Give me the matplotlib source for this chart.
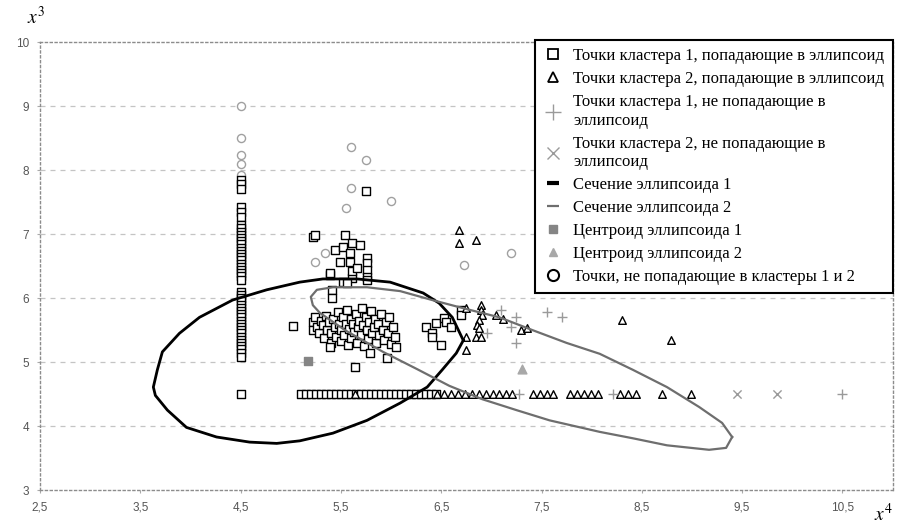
import matplotlib
matplotlib.use("Agg")
import matplotlib.pyplot as plt
from matplotlib.lines import Line2D

# axis ticks
x_ticks = [2.5, 3.5, 4.5, 5.5, 6.5, 7.5, 8.5, 9.5, 10.5]
x_tick_labels = ["2,5", "3,5", "4,5", "5,5", "6,5", "7,5", "8,5", "9,5", "10,5"]
y_ticks = [3, 4, 5, 6, 7, 8, 9, 10]
y_tick_labels = ["3", "4", "5", "6", "7", "8", "9", "10"]

labels = [
    "Точки кластера 1, попадающие в эллипсоид",
    "Точки кластера 2, попадающие в эллипсоид",
    "Точки кластера 1, не попадающие в\nэллипсоид",
    "Точки кластера 2, не попадающие в\nэллипсоид",
    "Сечение эллипсоида 1",
    "Сечение эллипсоида 2",
    "Центроид эллипсоида 1",
    "Центроид эллипсоида 2",
    "Точки, не попадающие в кластеры 1 и 2",
]

# cluster 1 inside ellipsoid: column at x=4.5
c1_col_y = [7.84, 7.78, 7.7, 7.42, 7.34, 7.27, 7.14, 7.09, 7.04, 6.99, 6.94,
            6.89, 6.84, 6.79, 6.74, 6.69, 6.64, 6.59, 6.54, 6.49, 6.44, 6.39,
            6.34, 6.28, 6.1, 6.05, 6.0, 5.95, 5.9, 5.85, 5.8, 5.75, 5.7, 5.65,
            5.6, 5.55, 5.5, 5.45, 5.4, 5.35, 5.3, 5.25, 5.2, 5.15, 5.08, 4.5]
# cluster 1 inside ellipsoid: row at y=4.5
c1_row_x = [5.1, 5.15, 5.2, 5.25, 5.3, 5.35, 5.4, 5.45, 5.5, 5.55, 5.6, 5.65,
            5.7, 5.75, 5.8, 5.85, 5.9, 5.95, 6.0, 6.05, 6.1, 6.15, 6.2, 6.25,
            6.3, 6.35, 6.4, 6.45]
# cluster 1 inside ellipsoid: main group
c1_x = [5.22, 5.22, 5.24, 5.26, 5.28, 5.3, 5.32, 5.33, 5.35, 5.36, 5.38, 5.4,
        5.4, 5.42, 5.44, 5.45, 5.47, 5.48, 5.5, 5.5, 5.52, 5.53, 5.55, 5.56,
        5.57, 5.58, 5.6, 5.6, 5.62, 5.63, 5.65, 5.66, 5.67, 5.68, 5.7, 5.71,
        5.72, 5.73, 5.75, 5.76, 5.77, 5.78, 5.8, 5.81, 5.83, 5.84, 5.85, 5.87,
        5.88, 5.9, 5.92, 5.93, 5.95, 5.97, 5.98, 6.0, 6.02, 6.04, 6.05,
        5.02, 5.39, 5.79, 5.96, 5.64,
        5.39, 5.41, 5.41, 5.52, 5.61, 5.61,
        5.22, 5.24, 5.54, 5.44, 5.52, 5.61, 5.69, 5.49, 5.59, 5.59, 5.66,
        5.76, 5.76, 5.76, 5.76, 5.39, 5.56, 5.76, 5.75,
        6.35, 6.41, 6.45, 6.5, 6.53, 6.55, 6.41, 6.7, 6.7, 6.6]
c1_y = [5.62, 5.5, 5.7, 5.55, 5.45, 5.65, 5.58, 5.38, 5.72, 5.5, 5.62, 5.3,
        5.45, 5.68, 5.55, 5.4, 5.78, 5.6, 5.5, 5.33, 5.7, 5.42, 5.6, 5.82,
        5.27, 5.52, 5.68, 5.38, 5.6, 5.47, 5.75, 5.3, 5.55, 5.65, 5.42, 5.85,
        5.58, 5.25, 5.7, 5.5, 5.36, 5.62, 5.8, 5.45, 5.55, 5.68, 5.3, 5.6,
        5.42, 5.75, 5.5, 5.35, 5.62, 5.45, 5.7, 5.28, 5.55, 5.4, 5.23,
        5.56, 5.23, 5.14, 5.06, 4.92,
        6.36, 6.12, 6.0, 6.25, 6.31, 6.43,
        6.95, 6.98, 6.98, 6.75, 6.8, 6.86, 6.83, 6.56, 6.7, 6.56, 6.47,
        6.62, 6.55, 6.44, 6.33, 6.39, 6.23, 6.28, 7.67,
        5.55, 5.45, 5.61, 5.27, 5.69, 5.62, 5.39, 5.81, 5.73, 5.55]

# cluster 2 inside ellipsoid
c2_x = [6.68, 6.68, 6.85, 6.75, 6.9, 6.9, 6.91, 7.05, 6.88, 6.86, 6.88, 6.75,
        6.85, 6.9, 6.75, 7.3, 7.35, 7.12, 8.3, 8.79, 5.64]
c2_y = [7.06, 6.86, 6.91, 5.84, 5.89, 5.81, 5.73, 5.73, 5.66, 5.58, 5.53, 5.39,
        5.39, 5.39, 5.19, 5.5, 5.53, 5.68, 5.66, 5.34, 4.5]
c2_row_x = [6.46, 6.53, 6.6, 6.67, 6.74, 6.81, 6.88, 6.95, 7.02, 7.08, 7.15,
            7.21, 7.41, 7.48, 7.55, 7.61, 7.78, 7.85, 7.92, 7.99, 8.06, 8.28,
            8.36, 8.44, 8.7, 8.99]

# cluster 1 outside ellipsoid
c1_out_x = [7.1, 7.25, 7.55, 7.7, 7.2, 7.25, 6.96, 7.28, 8.21, 10.5]
c1_out_y = [5.81, 5.7, 5.78, 5.7, 5.55, 5.3, 5.45, 4.5, 4.5, 4.5]

# cluster 2 outside ellipsoid
c2_out_x = [9.45, 9.85]
c2_out_y = [4.5, 4.5]

# centroids
cent1_x, cent1_y = [5.17], [5.02]
cent2_x, cent2_y = [7.31], [4.9]

# noise points
noise_x = [4.5, 4.5, 4.5, 4.5, 4.5, 5.6, 5.75, 5.6, 6.0, 5.55, 5.34, 5.24,
           6.73, 7.2]
noise_y = [9.0, 8.5, 8.23, 8.1, 7.92, 8.36, 8.16, 7.72, 7.52, 7.41, 6.7, 6.56,
           6.52, 6.7]

# ellipse sections (traced)
ell1_x = [6.72, 6.61, 6.48, 6.32, 5.99, 5.66, 5.32, 5.09, 4.76, 4.42, 4.09,
          3.89, 3.72, 3.67, 3.63, 3.65, 3.77, 3.96, 4.26, 4.59, 4.86, 5.09,
          5.42, 5.76, 6.09, 6.36, 6.51, 6.65, 6.72]
ell1_y = [5.34, 5.70, 5.92, 6.08, 6.25, 6.30, 6.30, 6.25, 6.13, 5.97, 5.70,
          5.45, 5.16, 4.88, 4.61, 4.48, 4.25, 3.98, 3.83, 3.75, 3.73, 3.77,
          3.89, 4.09, 4.36, 4.61, 4.88, 5.14, 5.34]
ell2_x = [9.40, 9.30, 9.07, 8.75, 8.41, 8.08, 7.75, 7.41, 7.08, 6.75, 6.41,
          6.09, 5.76, 5.42, 5.26, 5.20, 5.22, 5.29, 5.54, 5.92, 6.26, 6.58,
          6.91, 7.25, 7.58, 8.08, 8.41, 8.75, 9.17, 9.34, 9.40]
ell2_y = [3.83, 4.05, 4.30, 4.61, 4.88, 5.13, 5.30, 5.50, 5.70, 5.83, 5.97,
          6.11, 6.17, 6.17, 6.13, 6.02, 5.89, 5.77, 5.50, 5.16, 4.89, 4.63,
          4.42, 4.25, 4.09, 3.91, 3.81, 3.70, 3.63, 3.66, 3.83]

fig = plt.figure(figsize=(9.09, 5.27), dpi=100)
ax = fig.add_axes([0.044, 0.070, 0.938, 0.850])

grid_col = "#c4c4c4"
for yv in y_ticks[1:-1]:
    ax.axhline(yv, color=grid_col, lw=0.9, ls=(0, (4, 4)), zorder=0)

ax.plot(ell1_x, ell1_y, color="black", lw=2.0, zorder=4)
ax.plot(ell2_x, ell2_y, color="#6e6e6e", lw=1.6, zorder=4)

sq = dict(marker="s", s=30, facecolors="white", edgecolors="black",
          linewidths=1.0, zorder=3)
ax.scatter([4.5] * len(c1_col_y), c1_col_y, **sq)
ax.scatter(c1_row_x, [4.5] * len(c1_row_x), **sq)
ax.scatter(c1_x, c1_y, **sq)

tri = dict(marker="^", s=30, facecolors="white", edgecolors="black",
           linewidths=1.0, zorder=3)
ax.scatter(c2_row_x, [4.5] * len(c2_row_x), **tri)
ax.scatter(c2_x, c2_y, **tri)

ax.scatter(c1_out_x, c1_out_y, marker="+", s=45, color="#9a9a9a",
           linewidths=1.0, zorder=3)
ax.scatter(c2_out_x, c2_out_y, marker="x", s=35, color="#9a9a9a",
           linewidths=1.0, zorder=3)
ax.scatter(cent1_x, cent1_y, marker="s", s=30, color="#858585", zorder=3)
ax.scatter(cent2_x, cent2_y, marker="^", s=40, color="#a8a8a8", zorder=3)
ax.scatter(noise_x, noise_y, marker="o", s=34, facecolors="white",
           edgecolors="#a0a0a0", linewidths=1.0, zorder=2)

ax.set_xlim(2.5, 11.0)
ax.set_ylim(3, 10)
ax.set_xticks(x_ticks)
ax.set_xticklabels(x_tick_labels)
ax.set_yticks(y_ticks)
ax.set_yticklabels(y_tick_labels)
ax.tick_params(labelsize=8.5, labelcolor="#555555", length=2, color="#aaaaaa",
               pad=6)
for tl in ax.get_xticklabels() + ax.get_yticklabels():
    tl.set_family("Liberation Sans")

for side in ["left", "right", "top", "bottom"]:
    ax.spines[side].set_linestyle((0, (1.5, 2)))
    ax.spines[side].set_color("#8c8c8c")
    ax.spines[side].set_linewidth(1.0)

fig.text(0.03, 0.955, r"$x^3$", fontsize=14, family="serif",
         math_fontfamily="stix")
fig.text(0.962, 0.012, r"$x^4$", fontsize=14, family="serif",
         math_fontfamily="stix")

handles = [
    Line2D([], [], ls="none", marker="s", ms=7, mfc="white", mec="black", mew=1.3),
    Line2D([], [], ls="none", marker="^", ms=7, mfc="white", mec="black", mew=1.3),
    Line2D([], [], ls="none", marker="+", ms=11, color="#9a9a9a", mew=1.0),
    Line2D([], [], ls="none", marker="x", ms=8, color="#9a9a9a", mew=1.0),
    Line2D([], [], ls="none", marker="_", ms=9, color="black", mew=3.0),
    Line2D([], [], ls="none", marker="_", ms=9, color="#6e6e6e", mew=1.6),
    Line2D([], [], ls="none", marker="s", ms=6, color="#858585"),
    Line2D([], [], ls="none", marker="^", ms=6, color="#a8a8a8"),
    Line2D([], [], ls="none", marker="o", ms=8, mfc="white", mec="black", mew=1.5),
]
leg = ax.legend(handles, labels, loc="upper right", bbox_to_anchor=(1.0, 1.005),
                prop={"family": "Liberation Serif", "size": 12},
                frameon=True, fancybox=False, framealpha=1.0,
                borderpad=0.5, labelspacing=0.42, handletextpad=0.6,
                handlelength=1.2, borderaxespad=0.0)
leg.get_frame().set_edgecolor("black")
leg.get_frame().set_linewidth(1.5)
leg.set_zorder(10)

fig.savefig("out.png", dpi=100)
